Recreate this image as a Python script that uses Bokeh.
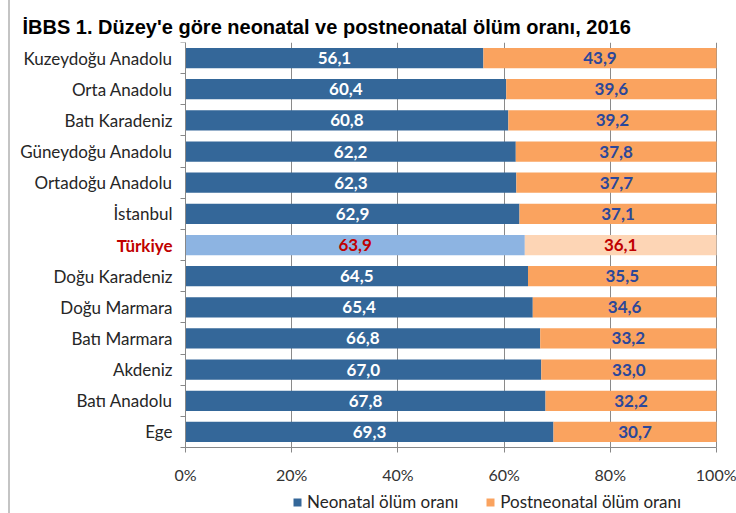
from bokeh.plotting import figure
from bokeh.layouts import row
from bokeh.models import (ColumnDataSource, Range1d, FixedTicker, PrintfTickFormatter,
                          Legend, LegendItem, Spacer)
from bokeh.core.properties import value
from bokeh.embed import file_html
from bokeh.resources import INLINE

regions = ["Kuzeydoğu Anadolu", "Orta Anadolu", "Batı Karadeniz", "Güneydoğu Anadolu",
           "Ortadoğu Anadolu", "İstanbul", "Türkiye", "Doğu Karadeniz", "Doğu Marmara",
           "Batı Marmara", "Akdeniz", "Batı Anadolu", "Ege"]
neonatal = [56.1, 60.4, 60.8, 62.2, 62.3, 62.9, 63.9, 64.5, 65.4, 66.8, 67.0, 67.8, 69.3]
postneonatal = [43.9, 39.6, 39.2, 37.8, 37.7, 37.1, 36.1, 35.5, 34.6, 33.2, 33.0, 32.2, 30.7]
x_ticks = [0, 20, 40, 60, 80, 100]
highlight = "Türkiye"
title_text = "İBBS 1. Düzey'e göre neonatal ve postneonatal ölüm oranı, 2016"
series_names = ["Neonatal ölüm oranı", "Postneonatal ölüm oranı"]

BLUE, ORANGE = "#346799", "#faa35f"
LBLUE, LORANGE = "#8db4e2", "#fdd5b5"
RED = "#c00000"
LABEL_FONT = "Lato"
FS = "17px"

n = len(regions)
ys = [i + 0.5 for i in range(n)]
is_hl = [r == highlight for r in regions]
fmt = lambda v: f"{v:.1f}".replace(".", ",")

src = ColumnDataSource(dict(
    y=ys,
    region=regions,
    lab_text=["" if h else r for r, h in zip(regions, is_hl)],
    hl_text=[r if h else "" for r, h in zip(regions, is_hl)],
    zero=[0] * n,
    neo=neonatal,
    total=[a + b for a, b in zip(neonatal, postneonatal)],
    neo_mid=[a / 2 for a in neonatal],
    post_mid=[a + b / 2 for a, b in zip(neonatal, postneonatal)],
    neo_lab=[fmt(v) for v in neonatal],
    post_lab=[fmt(v) for v in postneonatal],
    neo_col=[LBLUE if h else BLUE for h in is_hl],
    post_col=[LORANGE if h else ORANGE for h in is_hl],
    neo_tcol=[RED if h else "#ffffff" for h in is_hl],
    post_tcol=[RED if h else "#2b479a" for h in is_hl],
))

# layout geometry (pixels)
W, H = 726, 513
TOP = 42                # frame top
AX_X = 175              # 0% position inside canvas
AX_W = 531              # width of 0..100%
ROWS_H = 405            # height of the category rows
px_per_unit = AX_W / 100.0
row_px = ROWS_H / n
x_start = -AX_X / px_per_unit
x_end = (W - AX_X) / px_per_unit
y_bottom = n + (H - TOP - ROWS_H) / row_px

p = figure(width=W, height=H, output_backend="svg", toolbar_location=None,
           x_range=Range1d(x_start, x_end), y_range=Range1d(y_bottom, 0),
           min_border_left=0, min_border_right=0, min_border_top=TOP,
           min_border_bottom=0)
p.outline_line_color = None
p.background_fill_color = "white"
p.border_fill_color = "white"

p.title.text = title_text
p.title.align = "left"
p.title.offset = 12
p.title.text_font = "Liberation Sans"
p.title.text_font_style = "bold"
p.title.text_font_size = "20px"
p.title.text_color = "#000000"
p.title.standoff = 10

r1 = p.hbar(y="y", left=0, right="neo", height=0.65, fill_color="neo_col",
            line_color=None, source=src)
r2 = p.hbar(y="y", left="neo", right="total", height=0.65, fill_color="post_col",
            line_color=None, source=src)

p.text(x="neo_mid", y="y", text="neo_lab", text_color="neo_tcol", source=src,
       text_font=value(LABEL_FONT), text_font_style="bold", text_font_size=FS,
       text_align="center", text_baseline="middle")
p.text(x="post_mid", y="y", text="post_lab", text_color="post_tcol", source=src,
       text_font=value(LABEL_FONT), text_font_style="bold", text_font_size=FS,
       text_align="center", text_baseline="middle")

# category labels (left of the 0% axis)
p.text(x="zero", y="y", text="lab_text", source=src, x_offset=-13,
       text_font=value(LABEL_FONT), text_font_size=FS, text_color="#262626",
       text_align="right", text_baseline="middle")
p.text(x="zero", y="y", text="hl_text", source=src, x_offset=-13,
       text_font=value(LABEL_FONT), text_font_style="bold", text_font_size=FS,
       text_color=RED, text_align="right", text_baseline="middle")

# x axis placed at bottom of rows
p.xaxis.fixed_location = n
p.xaxis.bounds = (0, 100)
p.xaxis.ticker = FixedTicker(ticks=x_ticks)
p.xaxis.formatter = PrintfTickFormatter(format="%d%%")
p.xaxis.axis_line_color = "#888888"
p.xaxis.major_tick_line_color = "#888888"
p.xaxis.major_tick_out = 5
p.xaxis.major_tick_in = 0
p.xaxis.minor_tick_line_color = None
p.xaxis.major_label_standoff = 12
p.xaxis.major_label_text_font = LABEL_FONT
p.xaxis.major_label_text_font_size = "16px"
p.xaxis.major_label_text_color = "#333333"

# y axis placed at 0% (ticks at row boundaries; labels drawn above as text)
p.yaxis.fixed_location = 0
p.yaxis.bounds = (0, n)
p.yaxis.ticker = FixedTicker(ticks=ys, minor_ticks=list(range(n + 1)))
p.yaxis.major_label_overrides = {y: "" for y in ys}
p.yaxis.major_tick_line_color = None
p.yaxis.major_tick_out = 0
p.yaxis.major_tick_in = 0
p.yaxis.minor_tick_line_color = "#888888"
p.yaxis.minor_tick_out = 5
p.yaxis.minor_tick_in = 0
p.yaxis.axis_line_color = "#888888"

p.xgrid.ticker = FixedTicker(ticks=x_ticks)
p.xgrid.grid_line_color = "#8a8a8a"
p.xgrid.cross_bounds = (0, n)
p.ygrid.grid_line_color = None

legend = Legend(items=[LegendItem(label=series_names[0], renderers=[r1], index=0),
                       LegendItem(label=series_names[1], renderers=[r2], index=0)],
                orientation="horizontal", location=(282, 1),
                glyph_width=10, glyph_height=10, label_text_font=LABEL_FONT,
                label_text_font_size=FS, label_text_color="#262626",
                label_height=16, spacing=27, padding=0, margin=0, label_standoff=5,
                background_fill_alpha=0, border_line_color=None)
p.add_layout(legend, "center")

layout = row(Spacer(width=8, height=H), Spacer(width=2, height=H, background="#c4c4c4"), p)

open("out.html", "w").write(file_html(layout, INLINE))
